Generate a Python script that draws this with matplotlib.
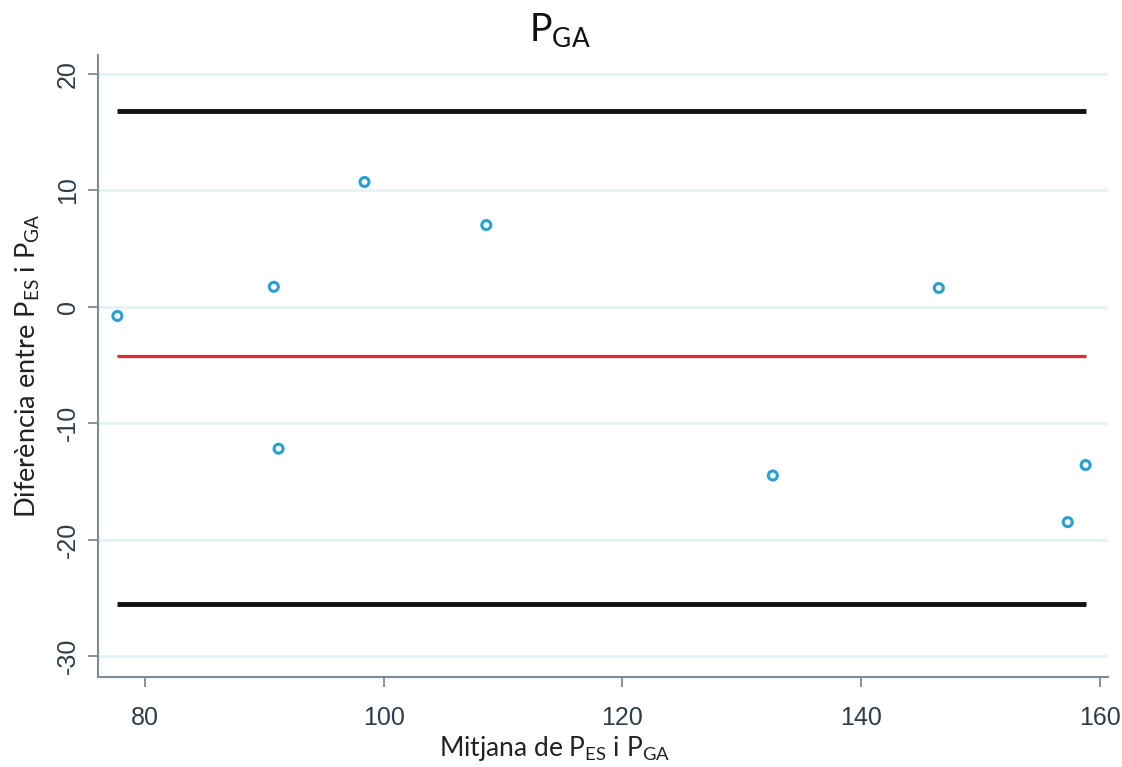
import matplotlib
matplotlib.use("Agg")
import matplotlib.pyplot as plt
import numpy as np

# Data
mean_x = [77.7, 90.8, 91.2, 98.4, 108.6, 132.6, 146.5, 157.3, 158.8]
diff_y = [-0.8, 1.7, -12.2, 10.7, 7.0, -14.5, 1.6, -18.5, -13.6]
upper_loa = 16.8
mean_diff = -4.2
lower_loa = -25.5
xticks = [80, 100, 120, 140, 160]
yticks = [-30, -20, -10, 0, 10, 20]

plt.rcParams['mathtext.default'] = 'regular'
plt.rcParams['axes.unicode_minus'] = False
label_font = ['Lato', 'DejaVu Sans']
tick_font = ['Liberation Sans', 'DejaVu Sans']

fig = plt.figure(figsize=(11.22, 7.67), dpi=100)
ax = fig.add_axes([0.0873, 0.1173, 0.9002, 0.811])

spine_c = '#7d8b94'
tick_c = '#2e3d47'
grid_c = '#e3f3f5'

ax.set_xlim(76.07, 160.67)
ax.set_ylim(-31.8, 21.6)
ax.set_yticks(yticks)
ax.set_xticks(xticks)
ax.yaxis.grid(True, color=grid_c, linewidth=2)
ax.set_axisbelow(True)

xmin, xmax = min(mean_x), max(mean_x)
ax.plot([xmin, xmax], [upper_loa, upper_loa], color='#111111', lw=3.5, solid_capstyle='butt')
ax.plot([xmin, xmax], [lower_loa, lower_loa], color='#111111', lw=3.5, solid_capstyle='butt')
ax.plot([xmin, xmax], [mean_diff, mean_diff], color='#e8262b', lw=2.3, solid_capstyle='butt')
ax.scatter(mean_x, diff_y, s=42, facecolors='none', edgecolors='#2a9fd2', linewidths=2.2, zorder=5)

for s in ['top', 'right']:
    ax.spines[s].set_visible(False)
for s in ['left', 'bottom']:
    ax.spines[s].set_color(spine_c)
    ax.spines[s].set_linewidth(1.5)

ax.tick_params(axis='both', colors=spine_c, length=7, width=1.3, labelcolor=tick_c, labelsize=18)
ax.tick_params(axis='x', pad=14)
ax.tick_params(axis='y', pad=6)
for lab in ax.get_xticklabels() + ax.get_yticklabels():
    lab.set_family(tick_font)
for lab in ax.get_yticklabels():
    lab.set_rotation(90)
    lab.set_va('center')

ax.set_xlabel('Mitjana de P$_{ES}$ i P$_{GA}$', fontsize=19, family=label_font, color='#222222')
ax.xaxis.set_label_coords(0.452, -0.092)
ax.set_ylabel('Diferència entre P$_{ES}$ i P$_{GA}$', fontsize=19.5, family=label_font, color='#222222')
ax.yaxis.set_label_coords(-0.055, 0.5)
ax.set_title('P$_{GA}$', fontsize=27, family=label_font, color='#111111', x=0.457, pad=10)

fig.savefig('out.png', dpi=100, facecolor='white')
